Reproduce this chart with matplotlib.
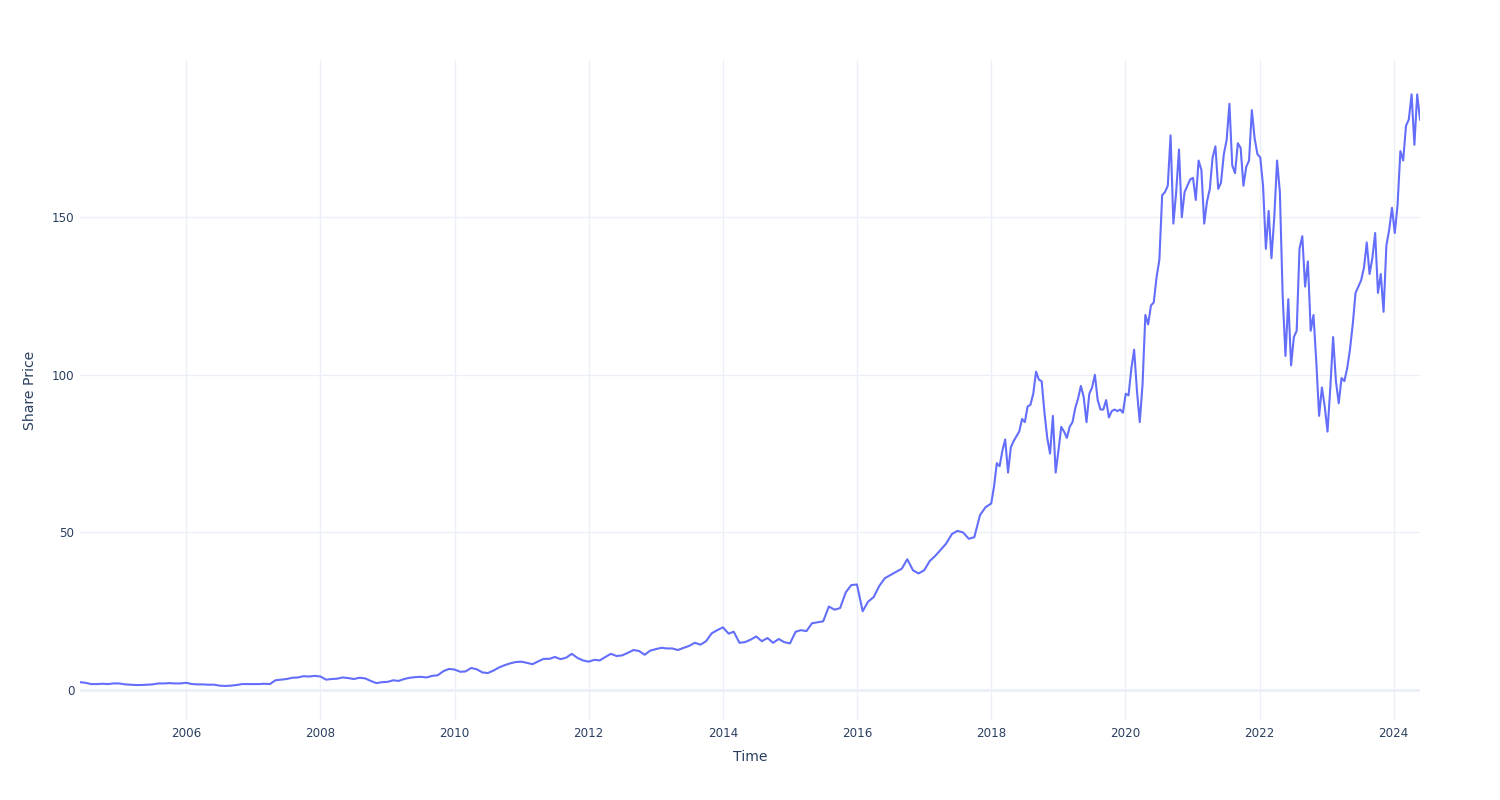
import numpy as np
import pandas as pd
import matplotlib
matplotlib.use("Agg")
import matplotlib.pyplot as plt
import matplotlib.dates as mdates

# monthly closes 2004-06 .. 2017-12
prices_early = [
    2.5, 2.3, 1.9, 1.9, 2.0, 1.9, 2.1,                                  # 2004
    2.1, 1.8, 1.7, 1.6, 1.6, 1.7, 1.8, 2.1, 2.1, 2.2, 2.1, 2.1,         # 2005
    2.3, 1.9, 1.8, 1.8, 1.7, 1.7, 1.4, 1.3, 1.4, 1.6, 1.9, 1.9,         # 2006
    1.9, 1.9, 2.0, 1.9, 3.1, 3.3, 3.5, 3.9, 4.0, 4.4, 4.3, 4.5,         # 2007
    4.3, 3.3, 3.5, 3.6, 4.0, 3.8, 3.5, 3.9, 3.7, 2.9, 2.2, 2.5,         # 2008
    2.6, 3.1, 2.9, 3.5, 3.9, 4.1, 4.2, 4.0, 4.5, 4.7, 6.0, 6.7,         # 2009
    6.5, 5.8, 5.9, 7.0, 6.6, 5.6, 5.4, 6.2, 7.2, 7.9, 8.5, 8.9,         # 2010
    9.0, 8.6, 8.2, 9.1, 9.9, 9.9, 10.5, 9.8, 10.3, 11.5, 10.2, 9.4,     # 2011
    9.0, 9.6, 9.4, 10.5, 11.5, 10.8, 11.0, 11.8, 12.7, 12.4, 11.2, 12.5,  # 2012
    13.0, 13.4, 13.2, 13.2, 12.7, 13.4, 14.0, 15.0, 14.4, 15.5, 18.0, 19.0,  # 2013
    19.9, 17.9, 18.5, 15.0, 15.2, 16.0, 17.0, 15.5, 16.5, 15.0, 16.2, 15.2,  # 2014
    14.8, 18.5, 19.0, 18.7, 21.2, 21.5, 21.8, 26.5, 25.5, 26.0, 31.0, 33.3,  # 2015
    33.5, 25.0, 28.0, 29.5, 33.0, 35.5, 36.5, 37.5, 38.5, 41.5, 38.0, 37.0,  # 2016
    38.0, 41.0, 42.5, 44.5, 46.5, 49.5, 50.5, 50.0, 48.0, 48.5, 55.5, 58.0,  # 2017
]

# roughly half-monthly closes 2018-01 .. 2024-05
prices_late = [
    59.2, 64.5, 72.0, 71.0, 76.0, 79.5, 69.0, 77.0, 79.0, 80.5, 82.0, 86.0,
    85.0, 90.0, 90.5, 94.0, 101.0, 98.5, 98.0, 88.0, 80.0, 75.0, 87.0, 69.0,   # 2018
    76.0, 83.5, 82.0, 80.0, 83.5, 85.0, 89.5, 92.5, 96.5, 93.0, 85.0, 94.0,
    96.0, 100.0, 92.0, 89.0, 89.0, 92.0, 86.5, 88.5, 89.0, 88.5, 89.0, 88.0,  # 2019
    94.0, 93.5, 102.0, 108.0, 95.0, 85.0, 97.0, 119.0, 116.0, 122.0, 123.0, 131.0,
    136.5, 157.0, 158.0, 160.0, 176.0, 148.0, 158.0, 171.5, 150.0, 158.0, 160.0, 162.0,  # 2020
    162.5, 155.5, 168.0, 165.0, 148.0, 155.0, 159.0, 169.0, 172.5, 159.0, 161.0, 170.0,
    174.5, 186.0, 166.5, 164.0, 173.5, 172.0, 160.0, 166.0, 168.0, 184.0, 175.0, 170.0,  # 2021
    169.0, 160.0, 140.0, 152.0, 137.0, 150.0, 168.0, 158.0, 125.0, 106.0, 124.0, 103.0,
    112.0, 114.0, 140.0, 144.0, 128.0, 136.0, 114.0, 119.0, 104.0, 87.0, 96.0, 90.0,  # 2022
    82.0, 96.0, 112.0, 98.0, 91.0, 99.0, 98.0, 102.0, 108.0, 116.0, 126.0, 128.0,
    130.0, 134.0, 142.0, 132.0, 137.0, 145.0, 126.0, 132.0, 120.0, 141.0, 146.0, 153.0,  # 2023
    145.0, 154.0, 171.0, 168.0, 179.0, 181.0, 189.0, 173.0, 189.0, 181.0,     # 2024
]

dates_early = pd.date_range("2004-06-01", "2017-12-01", freq="MS")
dates_late = pd.date_range("2018-01-01", "2024-05-24", periods=len(prices_late))

df = pd.DataFrame({
    "Time": list(dates_early) + list(dates_late),
    "Share Price": prices_early + prices_late,
})

text_col = "#2a3f5f"
grid_col = "#EBF0F8"

fig = plt.figure(figsize=(15, 8), dpi=100)
ax = fig.add_axes([80 / 1500, 80 / 800, 1340 / 1500, 660 / 800])

ax.plot(df["Time"], df["Share Price"], color="#636EFA", lw=1.5, zorder=3)

ax.set_xlim(df["Time"].min(), df["Time"].max())
ax.set_ylim(-9.5, 199.9)
ax.set_yticks([0, 50, 100, 150])
ax.xaxis.set_major_locator(mdates.YearLocator(2))
ax.xaxis.set_major_formatter(mdates.DateFormatter("%Y"))

ax.grid(True, color=grid_col, lw=1, zorder=0)
ax.axhline(0, color=grid_col, lw=2, zorder=1)
for s in ax.spines.values():
    s.set_visible(False)
ax.tick_params(length=0, labelsize=8.6, labelcolor=text_col)
ax.tick_params(axis="x", pad=5)
ax.tick_params(axis="y", pad=4)

ax.set_xlabel("Time", fontsize=10.1, color=text_col, labelpad=7.5)
ax.set_ylabel("Share Price", fontsize=10.1, color=text_col, labelpad=11)

fig.savefig("out.png", dpi=100)
